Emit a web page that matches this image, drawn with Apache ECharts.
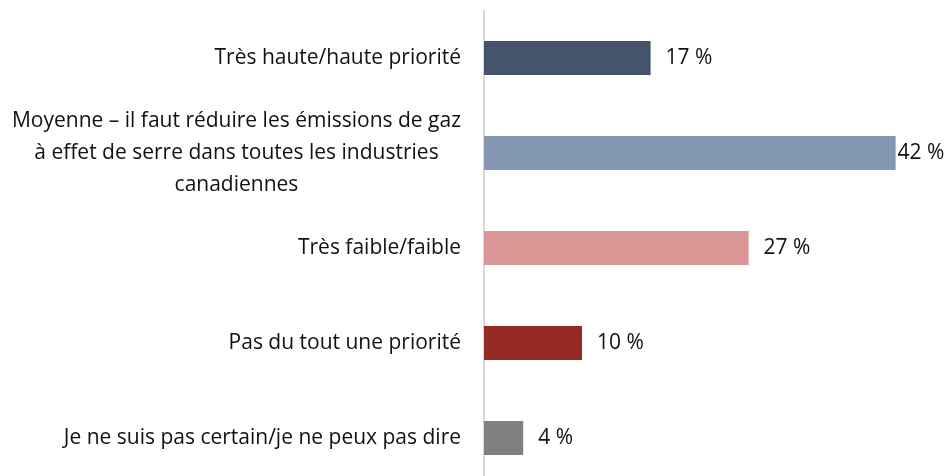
<!DOCTYPE html>
<html>
<head>
<meta charset="utf-8">
<script src="https://cdn.jsdelivr.net/npm/echarts@6/dist/echarts.min.js"></script>
<style>
  html, body { margin: 0; padding: 0; background: #fff; }
  #chart { width: 947px; height: 476px; }
</style>
</head>
<body>
<div id="chart"></div>
<script>
// catégories, de haut en bas
const categories = [
  'Très haute/haute priorité',
  'Moyenne – il faut réduire les émissions de gaz\nà effet de serre dans toutes les industries\ncanadiennes',
  'Très faible/faible',
  'Pas du tout une priorité',
  'Je ne suis pas certain/je ne peux pas dire'
]
const values = [17, 42, 27, 10, 4]
const barColors = ['#44546a', '#8497b0', '#da9694', '#952a23', '#808080']

const chart = echarts.init(document.getElementById('chart'))

const data = values.map((v, i) => ({
  value: v,
  itemStyle: { color: barColors[i] },
  // la barre la plus longue a son étiquette collée
  label: v === 42 ? { distance: 2 } : undefined
}))

const option = {
  animation: false,
  textStyle: { fontFamily: 'Open Sans' },
  grid: { left: 484, right: 22, top: 10.5, height: 475, outerBoundsMode: 'none' },
  xAxis: {
    type: 'value',
    min: 0,
    max: 45,
    show: false
  },
  yAxis: {
    type: 'category',
    inverse: true,
    data: categories,
    axisLine: { show: true, lineStyle: { color: '#d9d9d9', width: 2 } },
    axisTick: { show: false },
    axisLabel: {
      margin: 23,
      align: 'right',
      color: '#000',
      formatter: v => '{c|' + v + '}',
      rich: {
        c: { align: 'center', fontSize: 21, lineHeight: 32, color: '#111', fontFamily: 'Open Sans' }
      }
    }
  },
  series: [{
    type: 'bar',
    barWidth: 34,
    data: data,
    label: {
      show: true,
      position: 'right',
      distance: 15,
      fontSize: 21,
      color: '#111',
      fontFamily: 'Open Sans',
      formatter: p => p.value + ' %'
    }
  }]
}
chart.setOption(option)
</script>
</body>
</html>
